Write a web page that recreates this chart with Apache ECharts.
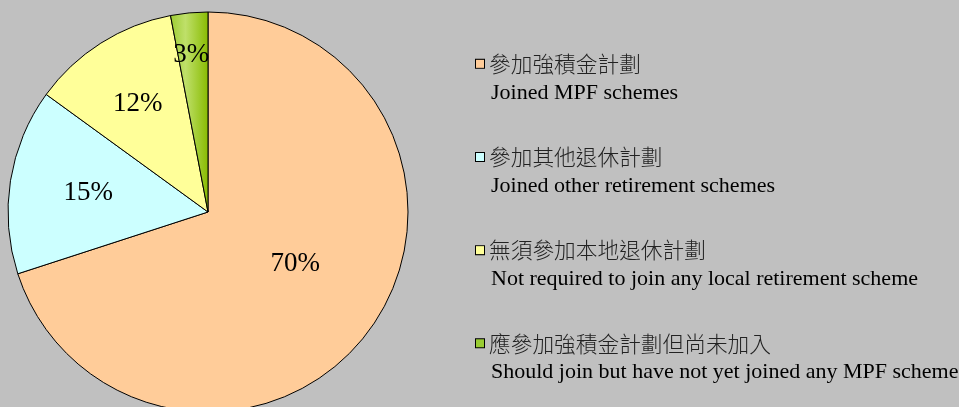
<!DOCTYPE html>
<html><head><meta charset="utf-8">
<script src="https://cdn.jsdelivr.net/npm/echarts@6/dist/echarts.min.js"></script>
<style>html,body{margin:0;padding:0;background:#c0c0c0}#c{width:959px;height:407px}</style>
</head><body><div id="c"></div>
<script>
const categoriesZh = ['參加強積金計劃','參加其他退休計劃','無須參加本地退休計劃','應參加強積金計劃但尚未加入'];
const categoriesEn = ['Joined MPF schemes','Joined other retirement schemes','Not required to join any local retirement scheme','Should join but have not yet joined any MPF scheme'];
const values = [70, 15, 12, 3];
const colors = ['#ffcc99','#ccffff','#ffff99','#99cc33'];
const labelOffsets = [[4,-9],[-18,-3],[-15,-21],[-7,-55]];

const chart = echarts.init(document.getElementById('c'));
const rich = {
  cn: {fontFamily:'"Noto Sans CJK TC","Noto Sans CJK SC",sans-serif', fontSize:21.7, fontWeight:300, color:'#222', lineHeight:29},
  en: {fontFamily:'"Liberation Serif","Times New Roman",serif', fontSize:22, color:'#000', lineHeight:29, padding:[0,0,0,15]}
};
colors.forEach((c,i)=>{ rich['b'+i] = {width:8, height:8, backgroundColor:c, borderColor:'#000', borderWidth:1, lineHeight:29}; });
rich.sp = {width:5};

const grad = new echarts.graphic.LinearGradient(0,0,1,0,[
  {offset:0,color:'#9ccc30'},{offset:0.4,color:'#bfe06a'},{offset:1,color:'#88bb00'}]);

chart.setOption({
  backgroundColor:'#c0c0c0',
  animation:false,
  legend:{
    orient:'vertical', left:465, top:48, itemWidth:0, itemHeight:0, itemGap:42.3,
    selectedMode:false, icon:'rect',
    data: categoriesZh,
    formatter: function(name){
      const i = categoriesZh.indexOf(name);
      return '{b'+i+'|}{sp|}{cn|'+name+'}\n{en|'+categoriesEn[i]+'}';
    },
    textStyle:{rich: rich}
  },
  series:[{
    type:'pie', center:[208,212], radius:[0,200], startAngle:90, clockwise:true,
    avoidLabelOverlap:false, emphasis:{disabled:true},
    itemStyle:{borderColor:'#000', borderWidth:1},
    label:{position:'inside', formatter:'{c}%', color:'#000', fontSize:27, fontFamily:'"Liberation Serif","Times New Roman",serif'},
    labelLine:{show:false},
    data: values.map((v,i)=>({
      name: categoriesZh[i], value: v,
      itemStyle:{color: i===3 ? grad : colors[i]},
      label:{offset: labelOffsets[i]}
    }))
  }]
});
</script></body></html>
